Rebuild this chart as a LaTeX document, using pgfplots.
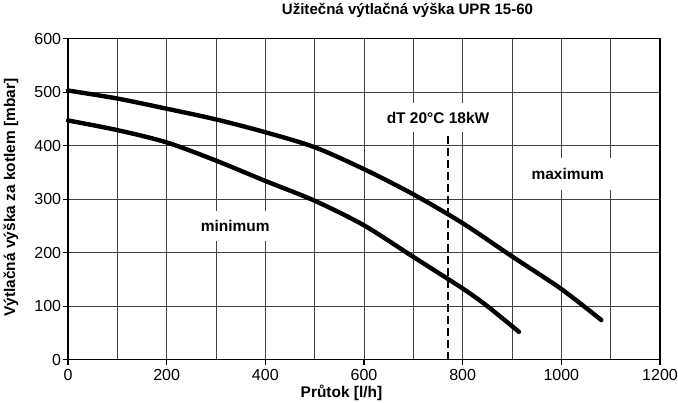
\documentclass[border=0pt]{standalone}
\usepackage{fontspec}
\setmainfont{Liberation Sans}
\usepackage{pgfplots}
\pgfplotsset{compat=1.18}
\begin{document}
\begin{tikzpicture}
\begin{axis}[
  name=ax,
  scale only axis,
  width=444pt, height=240.8pt,
  xmin=0, xmax=1200, ymin=0, ymax=600,
  xtick={0,200,...,1200},
  ytick={0,100,...,600},
  minor xtick={100,300,...,1100},
  grid=both,
  major grid style={black!75, line width=0.75pt},
  minor grid style={black!75, line width=0.75pt},
  minor tick length=0pt,
  major tick length=3.75pt,
  tick align=outside,
  xtick pos=bottom, ytick pos=left,
  tick style={black, line width=0.8pt},
  axis line style={black, line width=1.1pt},
  /pgf/number format/assume math mode=true,
  /pgf/number format/1000 sep={},
  ticklabel style={font=\fontsize{12}{14}\selectfont},
  yticklabel style={inner xsep=1.2pt},
  xticklabel style={inner ysep=3.5pt},
  xlabel={Průtok [l/h]},
  ylabel={Výtlačná výška za kotlem [mbar]},
  xlabel style={at={(rel axis cs:0.462,-0.1178)}, anchor=base, font=\fontsize{11.6}{13}\selectfont\bfseries},
  ylabel style={at={(rel axis cs:-0.0963,0.505)}, anchor=center, font=\fontsize{11.6}{13}\selectfont\bfseries},
  title={Užitečná výtlačná výška UPR 15-60},
  title style={at={(rel axis cs:0.5735,1.0508)}, anchor=base, font=\fontsize{11.3}{13}\selectfont\bfseries},
  clip=false,
]
% label boxes (white) covering grid
\node[fill=white, inner xsep=8pt, inner ysep=0pt, minimum height=23pt, font=\fontsize{11.6}{13}\selectfont\bfseries] at (axis cs:339,250) {minimum};
\node[fill=white, inner xsep=8pt, inner ysep=0pt, minimum height=24pt, font=\fontsize{11.6}{13}\selectfont\bfseries] at (axis cs:1013,347) {maximum};
\node[fill=white, inner xsep=8pt, inner ysep=0pt, minimum height=22pt, font=\fontsize{11.6}{13}\selectfont\bfseries] at (axis cs:750,452) {dT 20°C 18kW};
% dashed line
\addplot[black, line width=1.5pt, dash pattern=on 6pt off 3pt] coordinates {(770,0) (770,420)};
% maximum curve
\addplot[black, line width=3.3pt, smooth, tension=0.5, line cap=round] coordinates {
(0,503) (100,488) (200,469) (300,449) (400,425) (500,397) (600,356) (700,309) (800,255) (900,193) (1000,132) (1081,74)};
% minimum curve
\addplot[black, line width=3.3pt, smooth, tension=0.5, line cap=round] coordinates {
(0,447) (100,429) (200,406) (300,372) (400,334) (500,297) (600,251) (700,192) (800,133) (850,100) (914,52)};
\end{axis}
\pgfresetboundingbox
\path[use as bounding box] (ax.south west) ++(-51pt,-32.5pt) rectangle ++(508.5pt,302.25pt);
\end{tikzpicture}
\end{document}
